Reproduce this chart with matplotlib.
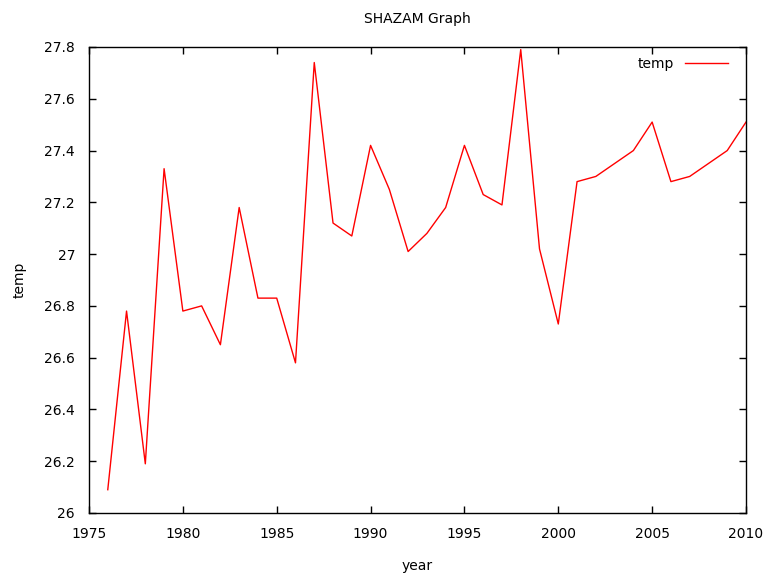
import matplotlib
matplotlib.use("Agg")
import matplotlib.pyplot as plt

years = list(range(1976, 2011))
temp = [26.09, 26.78, 26.19, 27.33, 26.78, 26.80, 26.65, 27.18, 26.83, 26.83,
        26.58, 27.74, 27.12, 27.07, 27.42, 27.25, 27.01, 27.08, 27.18, 27.42,
        27.23, 27.19, 27.79, 27.02, 26.73, 27.28, 27.30, 27.35, 27.40, 27.51,
        27.28, 27.30, 27.35, 27.40, 27.51]
xticks = [1975, 1980, 1985, 1990, 1995, 2000, 2005, 2010]
yticks = [26, 26.2, 26.4, 26.6, 26.8, 27, 27.2, 27.4, 27.6, 27.8]
ytick_labels = ["26", "26.2", "26.4", "26.6", "26.8", "27", "27.2", "27.4", "27.6", "27.8"]

plt.rcParams['font.family'] = ['DejaVu Sans']
fig = plt.figure(figsize=(7.65, 5.74), dpi=100)
ax = fig.add_axes([89/765, 1 - 513/574, (746-89)/765, (513-47)/574])
ax.plot(years, temp, color='#ff0000', lw=1.0, label='temp')
ax.set_xlim(1975, 2010)
ax.set_ylim(26, 27.8)
ax.set_xticks(xticks)
ax.set_xticklabels([str(x) for x in xticks])
ax.set_yticks(yticks)
ax.set_yticklabels(ytick_labels)
ax.tick_params(direction='in', length=5, width=1, top=True, right=True,
               labelsize=10, pad=10)
for s in ax.spines.values():
    s.set_linewidth(1.0)
ax.set_xlabel('year', fontsize=10, labelpad=13)
ax.set_ylabel('temp', fontsize=10, labelpad=13)
ax.set_title('SHAZAM Graph', fontsize=10, pad=17)
ax.legend(loc='upper right', frameon=False, markerfirst=False, fontsize=10,
          handlelength=3.1, handletextpad=0.8, borderpad=0, borderaxespad=0,
          bbox_to_anchor=(639/657, 1 - 10/466))
fig.savefig('out.png', dpi=100)
